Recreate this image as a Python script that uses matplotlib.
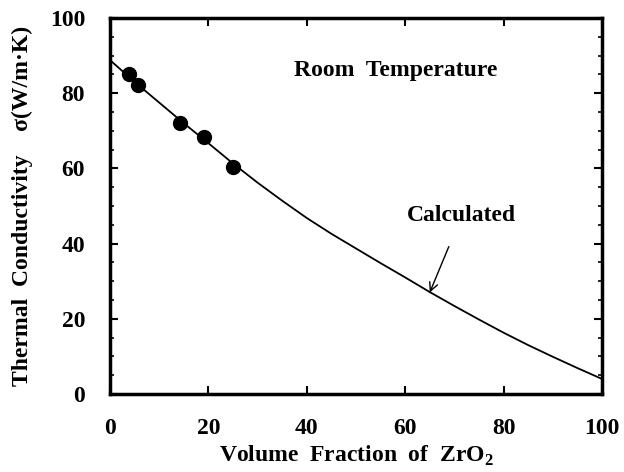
import matplotlib
matplotlib.use("Agg")
import matplotlib.pyplot as plt
from matplotlib.ticker import MultipleLocator

# Calculated curve
calc_x = [0, 5, 10, 15, 20, 25, 30, 35, 40, 45, 50, 55, 60, 65, 70, 75, 80, 85, 90, 95, 100]
calc_y = [88.8, 83.0, 77.5, 72.0, 66.7, 61.3, 56.2, 51.4, 46.8, 42.6, 38.7, 34.8, 31.0, 27.1, 23.4, 19.8, 16.3, 13.0, 9.9, 6.9, 4.0]

# Measured points
meas_x = [3.9, 5.6, 14.2, 19.1, 24.9]
meas_y = [85.1, 82.2, 72.0, 68.3, 60.3]

xticks = [0, 20, 40, 60, 80, 100]
yticks = [0, 20, 40, 60, 80, 100]

plt.rcParams['font.family'] = ['Liberation Serif', 'DejaVu Serif']
plt.rcParams['mathtext.fontset'] = 'custom'
plt.rcParams['mathtext.bf'] = 'Liberation Serif:bold'
plt.rcParams['mathtext.rm'] = 'Liberation Serif:bold'

fig = plt.figure(figsize=(6.24, 4.72), dpi=100)
ax = fig.add_axes([0.1763, 0.1653, 0.9647 - 0.1763, 0.9619 - 0.1653])

ax.plot(calc_x, calc_y, color='black', lw=1.3)
ax.plot(meas_x, meas_y, 'o', color='black', markersize=10)

ax.set_xlim(0, 100)
ax.set_ylim(0, 100)
ax.set_xticks(xticks)
ax.set_yticks(yticks)
ax.yaxis.set_minor_locator(MultipleLocator(5))
ax.tick_params(which='major', direction='in', length=6, width=1.5,
               top=True, right=True, labelsize=17)
ax.tick_params(which='minor', direction='in', length=3, width=1.2,
               left=True, right=True)
ax.tick_params(axis='x', pad=17)
ax.tick_params(axis='y', pad=18)
for lab in ax.get_xticklabels() + ax.get_yticklabels():
    lab.set_fontweight('bold')
for s in ax.spines.values():
    s.set_linewidth(2.5)

ax.set_xlabel(r'Volume  Fraction  of  ZrO$_\mathbf{2}$', fontsize=17, fontweight='bold', labelpad=4)
ax.set_ylabel('Thermal  Conductivity    σ(W/m·K)', fontsize=17, fontweight='bold', labelpad=12)

ax.text(58, 86, 'Room  Temperature', fontsize=17, fontweight='bold', ha='center', va='center')
ax.annotate('Calculated', xy=(65, 27), xytext=(71.5, 47.5), fontsize=17, fontweight='bold',
            ha='center', va='center',
            arrowprops=dict(arrowstyle='->', color='black', lw=1.0,
                            shrinkA=14, shrinkB=0, mutation_scale=15))

fig.savefig('out.png', dpi=100)
